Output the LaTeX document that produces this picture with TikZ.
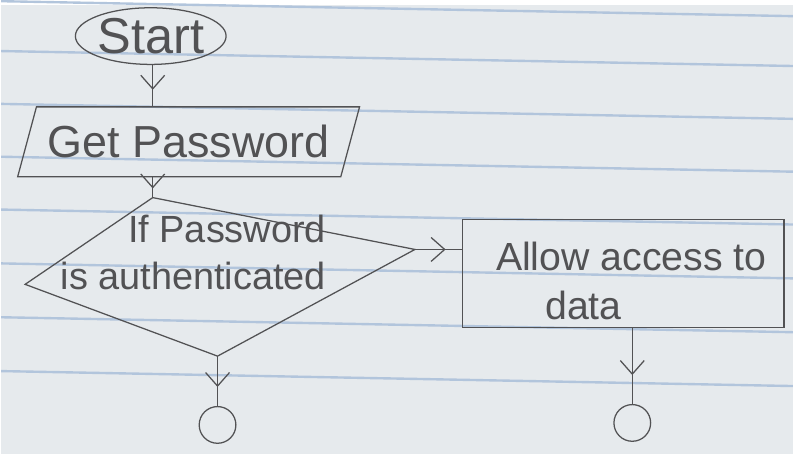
\documentclass[tikz,border=0pt]{standalone}
\usepackage{fontspec}
\setmainfont{Liberation Sans}
\usetikzlibrary{positioning, arrows.meta, shapes.geometric, decorations.markings}
\definecolor{pencil}{RGB}{82,82,84}
\definecolor{paper}{RGB}{230,234,237}
\definecolor{ruling}{RGB}{178,197,220}

\begin{document}
\begin{tikzpicture}[x=0.025cm, y=-0.025cm,
        box/.style={draw=pencil, text=pencil, line width=0.9pt, font=\fontsize{26}{34}\selectfont},
        label text/.style={text=pencil, align=center, inner sep=0pt},
        terminal/.style={box, ellipse, minimum width=3.62cm, minimum height=1.42cm, inner sep=0pt, font=\fontsize{36}{40}\selectfont},
        io/.style={box, trapezium, trapezium left angle=67, trapezium right angle=113, trapezium stretches=true,
            minimum width=8.6cm, minimum height=1.75cm, font=\fontsize{32}{38}\selectfont},
        process/.style={box, rectangle, minimum width=8.05cm, minimum height=2.7cm},
        stop/.style={box, circle, minimum size=0.92cm, inner sep=0pt},
        flow/.style={draw=pencil, line width=0.9pt,
            decoration={markings, mark=at position #1 with {\arrow{Straight Barb[length=3.4mm, width=6mm]}}},
            postaction={decorate}},
        flow/.default=0.6]

        % Paper
        \fill[paper] (0,0) rectangle (794,450);
        \foreach \y in {-4,46,99,152,205,259,313,367}
            \draw[ruling, line width=1.7pt] (0,\y) -- (794,\y+15);
        \useasboundingbox (0,0) rectangle (794,450);

        % Nodes
        \node[terminal] (start) at (150,31) {Start};
        \node[io] (getpw) at (188,137) {Get Password};
        \coordinate (dtop) at (152,193);
        \coordinate (dright) at (415,245);
        \coordinate (dbot) at (217,352);
        \coordinate (dleft) at (24,280);
        \draw[box] (dtop) -- (dright) -- (dbot) -- (dleft) -- cycle;
        \node[label text, align=right, anchor=east, font=\fontsize{27}{33}\selectfont] (cond) at (326,248)
            {If Password\\is authenticated};
        \node[process] (access) at (624,269) {};
        \node[label text, font=\fontsize{28}{35}\selectfont] (accesstext) at (632,277)
            {Allow access to\\\hspace*{-2.4cm}data};
        \node[stop] (end1) at (217,421) {};
        \node[stop] (end2) at (633,419) {};

        % Transitions
        \path
            (dtop |- start.south) edge[flow=0.6] (dtop |- getpw.north)
            (dtop |- getpw.south) edge[flow=0.55] (dtop)
            (dright) edge[flow=0.65] (dright -| access.west)
            (dbot) edge[flow=0.62] (end1)
            (end2 |- access.south) edge[flow=0.62] (end2);
    \end{tikzpicture}
\end{document}
